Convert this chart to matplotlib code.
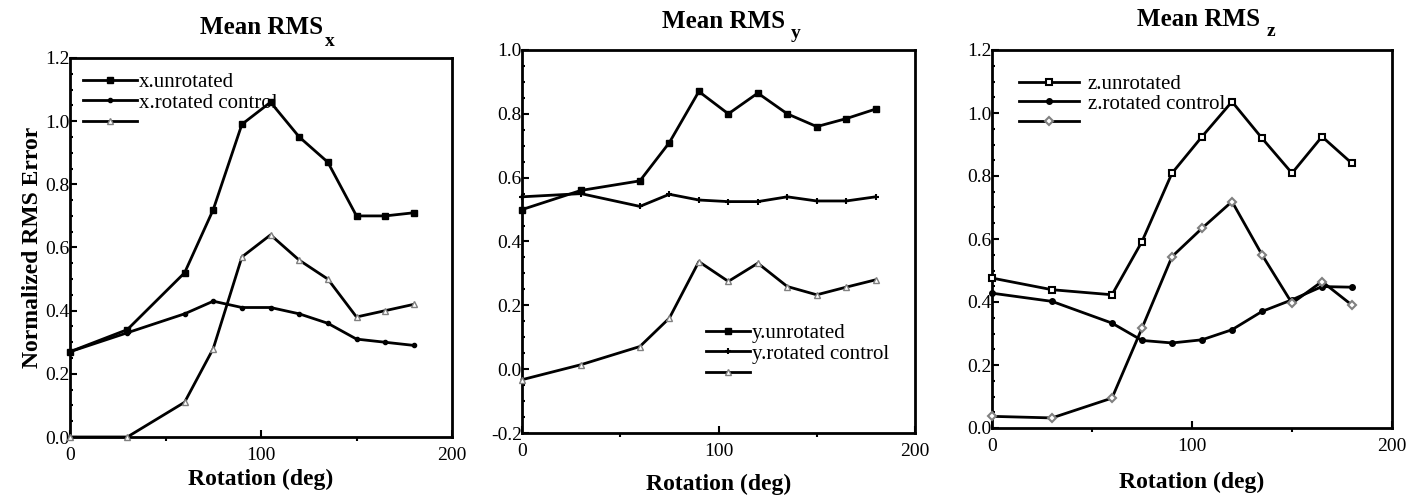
import matplotlib.pyplot as plt
import numpy as np

plt.rcParams['font.family'] = ['Liberation Serif', 'DejaVu Serif']

#------------------ data ------------------#
rot = [0, 30, 60, 75, 90, 105, 120, 135, 150, 165, 180]

x_unrot = [0.27, 0.34, 0.52, 0.72, 0.99, 1.06, 0.95, 0.87, 0.70, 0.70, 0.71]
x_ctrl = [0.27, 0.33, 0.39, 0.43, 0.41, 0.41, 0.39, 0.36, 0.31, 0.30, 0.29]
x_third = [0.0, 0.0, 0.11, 0.28, 0.57, 0.64, 0.56, 0.50, 0.38, 0.40, 0.42]

y_unrot = [0.50, 0.56, 0.59, 0.71, 0.87, 0.80, 0.865, 0.80, 0.76, 0.785, 0.815]
y_ctrl = [0.54, 0.55, 0.51, 0.548, 0.53, 0.525, 0.525, 0.54, 0.527, 0.527, 0.54]
y_third = [-0.033, 0.014, 0.071, 0.16, 0.337, 0.275, 0.332, 0.259, 0.233, 0.257, 0.28]

z_unrot = [0.476, 0.439, 0.423, 0.592, 0.809, 0.925, 1.036, 0.92, 0.809, 0.925, 0.84]
z_ctrl = [0.428, 0.402, 0.333, 0.278, 0.27, 0.28, 0.312, 0.37, 0.407, 0.449, 0.447]
z_third = [0.037, 0.032, 0.095, 0.317, 0.544, 0.634, 0.719, 0.55, 0.396, 0.465, 0.39]

labels_x = ['x.unrotated', 'x.rotated control', '']
labels_y = ['y.unrotated', 'y.rotated control', '']
labels_z = ['z.unrotated', 'z.rotated control', '']

W, H = 1415, 496
fig = plt.figure(figsize=(W / 100, H / 100), dpi=100)

ax1 = fig.add_axes([70 / W, 1 - 437 / H, 382 / W, 379 / H])
ax2 = fig.add_axes([522 / W, 1 - 433 / H, 393 / W, 383 / H])
ax3 = fig.add_axes([992 / W, 1 - 428 / H, 400 / W, 378 / H])


def style(ax, ylo, yhi, lpad):
    ax.set_xlim(0, 200)
    ax.set_ylim(ylo, yhi)
    ax.set_xticks([0, 100, 200])
    ax.set_xticks([50, 150], minor=True)
    ax.set_yticks(np.arange(ylo, yhi + 0.01, 0.2))
    ax.set_yticks(np.arange(ylo, yhi + 0.01, 0.05), minor=True)
    ax.yaxis.set_major_formatter(plt.FuncFormatter(lambda v, p: '%.1f' % v))
    ax.tick_params(which='both', direction='in', labelsize=14, width=1.5)
    ax.tick_params(which='major', length=5)
    ax.tick_params(which='minor', length=2.5)
    ax.tick_params(axis='x', which='minor', direction='out', length=3)
    ax.tick_params(axis='y', which='major', pad=0)
    ax.tick_params(axis='x', which='major', pad=7)
    for s in ax.spines.values():
        s.set_linewidth(2)
    ax.set_xlabel('Rotation (deg)', fontsize=17, fontweight='bold', labelpad=lpad)


lk = dict(color='black', lw=2, clip_on=False, zorder=3)

# panel x
h1 = ax1.plot(rot, x_unrot, marker='s', ms=4, mfc='black', mec='black', **lk)[0]
h2 = ax1.plot(rot, x_ctrl, marker='o', ms=3, mfc='black', mec='black', **lk)[0]
h3 = ax1.plot(rot, x_third, marker='^', ms=4, mfc='white', mec='gray', **lk)[0]
style(ax1, 0.0, 1.2, 4)
ax1.legend([h1, h2, h3], labels_x, loc='upper left', frameon=False, fontsize=15,
           handlelength=2.6, handletextpad=0.1, labelspacing=0.05,
           borderaxespad=0.2, bbox_to_anchor=(0.0, 0.995))
ax1.set_ylabel('Normalized RMS Error', fontsize=17, fontweight='bold', labelpad=2)

# panel y
h1 = ax2.plot(rot, y_unrot, marker='s', ms=4, mfc='black', mec='black', **lk)[0]
h2 = ax2.plot(rot, y_ctrl, marker='+', ms=5, mew=1.5, mec='black', **lk)[0]
h3 = ax2.plot(rot, y_third, marker='^', ms=4, mfc='white', mec='gray', **lk)[0]
style(ax2, -0.2, 1.0, 10)
ax2.legend([h1, h2, h3], labels_y, loc='upper left', frameon=False, fontsize=15,
           handlelength=2.1, handletextpad=0.1, labelspacing=0.05,
           bbox_to_anchor=(0.42, 0.335))

# panel z
h1 = ax3.plot(rot, z_unrot, marker='s', ms=5, mfc='white', mec='black', mew=1.5, **lk)[0]
h2 = ax3.plot(rot, z_ctrl, marker='o', ms=4, mfc='black', mec='black', **lk)[0]
h3 = ax3.plot(rot, z_third, marker='D', ms=4.5, mfc='white', mec='gray', mew=1.5, **lk)[0]
style(ax3, 0.0, 1.2, 12)
ax3.legend([h1, h2, h3], labels_z, loc='upper left', frameon=False, fontsize=15,
           handlelength=2.9, handletextpad=0.4, labelspacing=0.0,
           bbox_to_anchor=(0.02, 0.985))

# titles with subscripts
tk = dict(fontsize=18, fontweight='bold', va='center')
sk = dict(fontsize=14, fontweight='bold', va='center', ha='left')
fig.text(200 / W, 1 - 27 / H, 'Mean RMS', ha='left', **tk)
fig.text(325 / W, 1 - 41 / H, 'x', **sk)
fig.text(662 / W, 1 - 21 / H, 'Mean RMS', ha='left', **tk)
fig.text(791 / W, 1 - 34 / H, 'y', **sk)
fig.text(1137 / W, 1 - 19 / H, 'Mean RMS', ha='left', **tk)
fig.text(1267 / W, 1 - 32 / H, 'z', **sk)

plt.savefig('out.png', dpi=100)
